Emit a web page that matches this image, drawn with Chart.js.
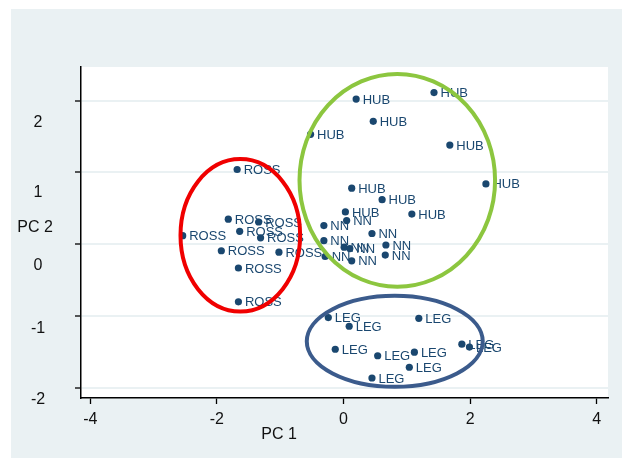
<!DOCTYPE html>
<html><head><meta charset="utf-8">
<style>html,body{margin:0;padding:0;background:#fff;}#wrap{width:622px;height:458px;position:relative;}</style>
<script src="https://cdn.jsdelivr.net/npm/chart.js@4.4.1/dist/chart.umd.min.js"></script>
</head><body><div id="wrap"><canvas id="c" width="622" height="458"></canvas></div>
<script>
// ---- data ----
const groupNames = ['ROSS', 'HUB', 'NN', 'LEG'];
const rossX = [-1.68, -1.82, -1.34, -1.64, -2.54, -1.31, -1.93, -1.02, -1.66, -1.66];
const rossY = [1.04, 0.35, 0.31, 0.18, 0.12, 0.09, -0.09, -0.11, -0.33, -0.80];
const hubX = [0.20, 1.43, 0.47, -0.52, 1.68, 2.25, 0.13, 0.61, 0.03, 1.08];
const hubY = [2.02, 2.11, 1.71, 1.53, 1.38, 0.84, 0.78, 0.62, 0.45, 0.42];
const nnX = [-0.31, 0.05, 0.45, -0.31, 0.01, 0.10, 0.67, -0.29, 0.13, 0.66];
const nnY = [0.26, 0.33, 0.15, 0.05, -0.04, -0.06, -0.01, -0.17, -0.23, -0.15];
const legX = [-0.24, 0.09, 1.19, -0.13, 0.54, 1.12, 1.04, 0.45, 1.87, 1.99];
const legY = [-1.02, -1.14, -1.03, -1.46, -1.55, -1.50, -1.71, -1.86, -1.39, -1.43];
const xTicks = [-4, -2, 0, 2, 4];
const yTicks = [-2, -1, 0, 1, 2];
const xTitle = 'PC 1';
const yTitle = 'PC 2';
// cluster ellipses (data units): ROSS, HUB+NN, LEG
const ellipseCx = [-1.63, 0.85, 0.81];
const ellipseCy = [0.125, 0.89, -1.35];
const ellipseRx = [0.945, 1.545, 1.39];
const ellipseRy = [1.06, 1.48, 0.633];

const FONT = "'Liberation Sans', Arial, sans-serif";
const NAVY = '#1a476f';
const BG = '#eaf1f3';

function pts(xs, ys) { return xs.map((x, i) => ({ x: x, y: ys[i] })); }
const seriesX = [rossX, hubX, nnX, legX];
const seriesY = [rossY, hubY, nnY, legY];

const panelPlugin = {
  id: 'panel',
  beforeDraw(chart) {
    const ctx = chart.ctx, a = chart.chartArea;
    ctx.save();
    ctx.fillStyle = '#fff';
    ctx.fillRect(0, 0, chart.width, chart.height);
    ctx.fillStyle = BG;
    ctx.fillRect(11, 9, chart.width - 11, chart.height - 9);
    ctx.fillStyle = '#fff';
    ctx.fillRect(a.left, a.top, a.right - a.left, a.bottom - a.top);
    ctx.restore();
  }
};

const labelPlugin = {
  id: 'pointLabels',
  afterDatasetsDraw(chart) {
    const ctx = chart.ctx;
    ctx.save();
    ctx.font = '13px ' + FONT;
    ctx.fillStyle = NAVY;
    ctx.textAlign = 'left';
    ctx.textBaseline = 'middle';
    chart.data.datasets.forEach((ds, di) => {
      chart.getDatasetMeta(di).data.forEach(el => {
        ctx.fillText(ds.label, el.x + 6.5, el.y + 1);
      });
    });
    // ellipses
    const xs = chart.scales.x, ys = chart.scales.y;
    const colors = ['#f00000', '#8cc63f', '#3b5b8c'];
    ctx.lineWidth = 4;
    for (let i = 0; i < ellipseCx.length; i++) {
      const cx = xs.getPixelForValue(ellipseCx[i]);
      const cy = ys.getPixelForValue(ellipseCy[i]);
      const rx = Math.abs(xs.getPixelForValue(ellipseCx[i] + ellipseRx[i]) - cx);
      const ry = Math.abs(ys.getPixelForValue(ellipseCy[i] + ellipseRy[i]) - cy);
      ctx.strokeStyle = colors[i];
      ctx.beginPath();
      ctx.ellipse(cx, cy, rx, ry, 0, 0, Math.PI * 2);
      ctx.stroke();
    }
    ctx.restore();
  },
  afterDraw(chart) {
    const ctx = chart.ctx, ys = chart.scales.y;
    const shifts = [12, 12, 21, 20, 22];
    ctx.save();
    ctx.fillStyle = '#111';
    ctx.font = '16px ' + FONT;
    ctx.textAlign = 'center';
    ctx.textBaseline = 'middle';
    yTicks.forEach((v, i) => {
      ctx.fillText(String(v), 38, ys.getPixelForValue(v) + shifts[i]);
    });
    ctx.fillText(yTitle, 35, 228);
    ctx.fillText(xTitle, 279, 435);
    ctx.restore();
  }
};

new Chart(document.getElementById('c'), {
  type: 'scatter',
  data: {
    datasets: groupNames.map((g, i) => ({
      label: g,
      data: pts(seriesX[i], seriesY[i]),
      pointRadius: 3.6,
      pointBackgroundColor: NAVY,
      pointBorderWidth: 0,
      showLine: false
    }))
  },
  options: {
    responsive: false,
    animation: false,
    layout: { padding: { left: 0, top: 67, right: 14, bottom: 0 } },
    plugins: { legend: { display: false }, tooltip: { enabled: false } },
    scales: {
      x: {
        type: 'linear', min: -4.147, max: 4.179,
        afterBuildTicks: s => { s.ticks = xTicks.map(v => ({ value: v })); },
        afterFit: s => { s.height = 60; },
        grid: { drawOnChartArea: false, drawTicks: true, tickLength: 6, tickColor: '#000', tickWidth: 1.3 },
        border: { color: '#000', width: 1.5 },
        ticks: { color: '#111', font: { size: 16, family: FONT }, padding: 6, maxRotation: 0, autoSkip: false }
      },
      y: {
        type: 'linear', min: -2.138, max: 2.466,
        afterBuildTicks: s => { s.ticks = yTicks.map(v => ({ value: v })); },
        afterFit: s => { s.width = 81; },
        grid: { color: BG, lineWidth: 2, drawTicks: true, tickLength: 6, tickColor: '#000', tickWidth: 1.3 },
        border: { color: '#000', width: 1.5 },
        ticks: { display: false }
      }
    }
  },
  plugins: [panelPlugin, labelPlugin]
});
</script></body></html>
